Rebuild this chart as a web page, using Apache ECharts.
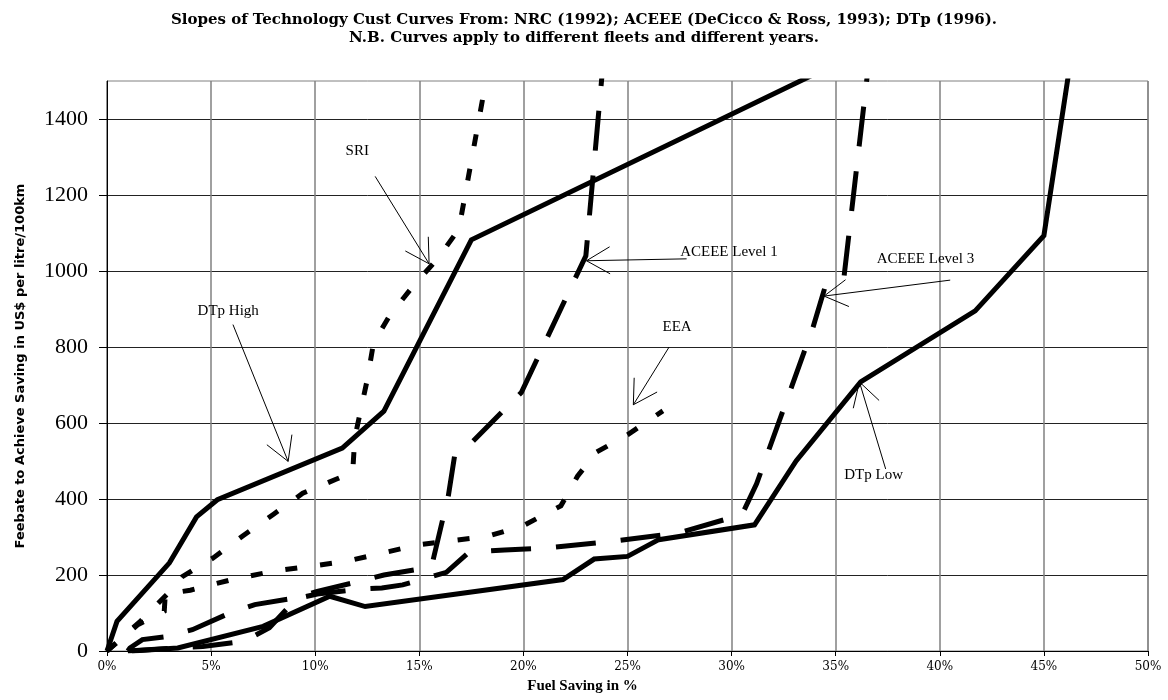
<!DOCTYPE html>
<html><head><meta charset="utf-8">
<script src="https://cdn.jsdelivr.net/npm/echarts@6/dist/echarts.min.js"></script>
<style>html,body{margin:0;padding:0;background:#fff}#c{width:1168px;height:700px}</style>
</head><body><div id="c"></div>
<script>
// ---- data (x = fuel saving %, y = feebate US$ per litre/100km) ----
const xTickValues = [0,5,10,15,20,25,30,35,40,45,50];
const yTickValues = [0,200,400,600,800,1000,1200,1400];

const dtpHigh = [[0,0],[0.48,78],[3.0,232],[4.3,353],[5.3,398],[11.3,534],[13.3,631],[17.5,1082],[35,1545]];
const dtpLow = [[1.2,0],[3.4,8],[7.5,65],[10.7,144],[12.4,117],[21.9,188],[23.4,242],[25.0,249],[26.5,293],[31.1,332],[33.1,500],[36.2,708],[41.7,895],[45.0,1093],[46.3,1560]];
const sri = [[0,0],[1.6,78],[2.9,150],[3.6,195],[5.1,245],[6.5,302],[8.0,360],[9.4,415],[11.0,452],[11.8,470],[11.9,560],[12.5,714],[12.8,810],[13.6,885],[14.7,960],[15.9,1034],[16.9,1110],[18.3,1530]];
const eea = [[0,0],[1.5,70],[2.75,105],[2.8,150],[4.0,160],[6.0,188],[8.0,210],[11.5,236],[13.0,255],[15.0,280],[18.3,302],[20.0,330],[21.8,382],[22.6,460],[23.5,523],[25.0,569],[26.7,632]];
const aceeeL1 = [[1.0,0],[1.1,8],[1.7,30],[2.85,38],[4.1,56],[5.9,100],[7.1,122],[9.1,140],[10.1,157],[12.1,183],[13.3,200],[15.4,219],[15.6,225],[16.4,410],[16.7,515],[17.3,537],[19.9,680],[23.0,1040],[23.8,1530]];
const aceeeL3 = [[1.0,0],[4.6,12],[6.6,26],[7.8,61],[9.1,138],[10.1,150],[12.1,163],[13.2,166],[14.2,174],[15.1,188],[16.3,207],[17.3,256],[17.9,262],[19.1,266],[21.1,271],[24.2,288],[27.4,310],[30.5,359],[31.2,440],[33.9,850],[34.5,960],[35.4,985],[36.55,1530]];

// annotations: label, text centre, arrow start, arrow tip (data units)
const annoLabels = ['SRI','DTp High','ACEEE Level 1','EEA','ACEEE Level 3','DTp Low'];
const annoText  = [[12.02,1315],[5.82,894],[29.87,1051],[27.38,852],[39.31,1032],[36.82,462]];
const annoFrom  = [[12.88,1249],[6.05,859],[27.84,1032],[27.0,800],[40.5,976],[37.4,479]];
const annoTip   = [[15.47,1019],[8.70,499],[23.03,1027],[25.28,648],[34.44,934],[36.14,708]];

const titleText = 'Slopes of Technology Cust Curves From: NRC (1992); ACEEE (DeCicco & Ross, 1993); DTp (1996).\nN.B. Curves apply to different fleets and different years.';
const xName = 'Fuel Saving in %';
const yName = 'Feebate to Achieve Saving in US$ per litre/100km';

const annoData = annoLabels.map((l,i)=>[annoText[i][0],annoText[i][1],annoFrom[i][0],annoFrom[i][1],annoTip[i][0],annoTip[i][1]]);

function lineSeries(name, data, type){
  return {name, type:'line', data, symbol:'none', clip:true, silent:true,
    lineStyle:{color:'#000', width:5, type:type, cap:'butt', join:'miter'}, z:3};
}
const dotted = [12,23];
const longDash = [40,25];

const chart = echarts.init(document.getElementById('c'), null, {renderer:'canvas'});
chart.setOption({
  animation:false,
  backgroundColor:'#fff',
  title:{text:titleText, left:'center', top:6,
    textStyle:{fontFamily:'DejaVu Serif', fontWeight:'bold', fontSize:15, lineHeight:18, color:'#000'}},
  grid:{left:107, right:20, top:81, bottom:49, show:true, borderColor:'#808080', borderWidth:1},
  xAxis:{type:'value', min:0, max:50, interval:5,
    name:xName, nameLocation:'middle', nameGap:28,
    nameTextStyle:{fontFamily:'Liberation Serif', fontWeight:'bold', fontSize:15, color:'#000', padding:[0,90,0,0]},
    axisLine:{show:true, lineStyle:{color:'#000', width:1}},
    axisTick:{show:true, length:5, lineStyle:{color:'#000'}},
    axisLabel:{formatter:'{value}%', margin:10, fontFamily:'DejaVu Serif', fontSize:12, color:'#000'},
    splitLine:{show:true, lineStyle:{color:'#808080', width:1.5}}},
  yAxis:{type:'value', min:0, max:1500, interval:200,
    name:yName, nameLocation:'middle', nameGap:80,
    nameTextStyle:{fontFamily:'DejaVu Sans', fontWeight:'bold', fontSize:13, color:'#000'},
    axisLine:{show:true, lineStyle:{color:'#000', width:1}},
    axisTick:{show:true, length:8, lineStyle:{color:'#000'}, customValues:yTickValues},
    axisLabel:{margin:19, fontFamily:'Liberation Serif', fontSize:22, color:'#000', customValues:yTickValues,
      formatter:function(v){return String(v);}},
    splitLine:{show:true, lineStyle:{color:'#222', width:1}}},
  series:[
    lineSeries('DTp High', dtpHigh, 'solid'),
    lineSeries('DTp Low', dtpLow, 'solid'),
    lineSeries('SRI', sri, dotted),
    lineSeries('EEA', eea, dotted),
    lineSeries('ACEEE Level 1', aceeeL1, longDash),
    lineSeries('ACEEE Level 3', aceeeL3, longDash),
    {type:'custom', name:'annotations', data:annoData, clip:false, silent:true, z:5,
      renderItem:function(params, api){
        const i = params.dataIndex;
        const t = api.coord([api.value(0), api.value(1)]);
        const s = api.coord([api.value(2), api.value(3)]);
        const p = api.coord([api.value(4), api.value(5)]);
        const ang = Math.atan2(s[1]-p[1], s[0]-p[0]);
        const L = 27, a = Math.PI/6;
        const b1 = [p[0]+L*Math.cos(ang+a), p[1]+L*Math.sin(ang+a)];
        const b2 = [p[0]+L*Math.cos(ang-a), p[1]+L*Math.sin(ang-a)];
        return {type:'group', children:[
          {type:'line', shape:{x1:s[0],y1:s[1],x2:p[0],y2:p[1]}, style:{stroke:'#000', lineWidth:1}},
          {type:'polyline', shape:{points:[b1,p,b2]}, style:{stroke:'#000', lineWidth:1, fill:null}},
          {type:'text', x:t[0], y:t[1], style:{text:annoLabels[i], fill:'#000',
            fontFamily:'Liberation Serif', fontSize:15, align:'center', verticalAlign:'middle'}}
        ]};
      }}
  ]
});
</script></body></html>
